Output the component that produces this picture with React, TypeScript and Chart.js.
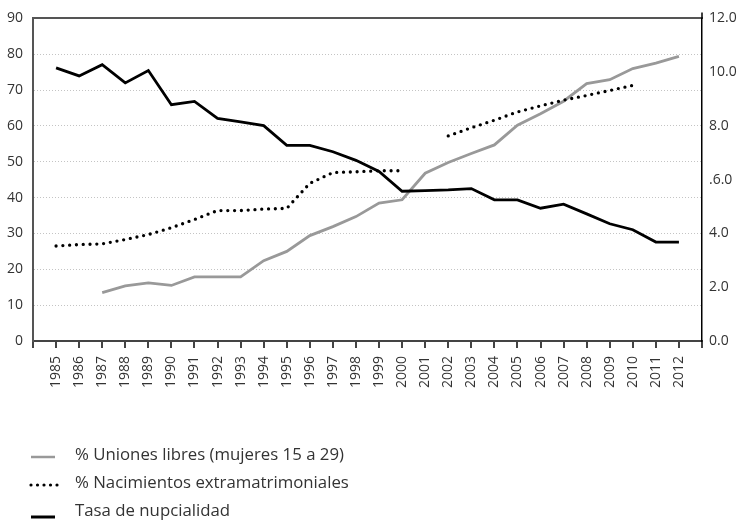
import { useEffect, useRef } from 'react';
import { Chart, registerables } from 'chart.js';

Chart.register(...registerables);

const years = [
  1985, 1986, 1987, 1988, 1989, 1990, 1991, 1992, 1993, 1994,
  1995, 1996, 1997, 1998, 1999, 2000, 2001, 2002, 2003, 2004,
  2005, 2006, 2007, 2008, 2009, 2010, 2011, 2012,
];

const unionesLibres = [
  null, null, 13.5, 15.4, 16.2, 15.5, 17.9, 17.9, 17.9, 22.4,
  25.0, 29.4, 31.9, 34.7, 38.5, 39.4, 46.8, 49.8, 52.3, 54.7,
  60.2, 63.4, 66.9, 71.8, 72.9, 76.0, 77.5, 79.4,
];

const nacimientosExtra = [
  26.5, 26.9, 27.1, 28.3, 29.7, 31.6, 33.9, 36.4, 36.4, 36.8,
  37.0, 44.0, 47.0, 47.2, 47.5, 47.5, null, 57.2, 59.5, 61.6,
  63.9, 65.6, 67.2, 68.5, 69.9, 71.3, null, null,
];

const tasaNupcialidad = [
  10.16, 9.86, 10.28, 9.6, 10.06, 8.79, 8.91, 8.28, 8.15, 8.01,
  7.28, 7.28, 7.04, 6.72, 6.31, 5.57, 5.59, 5.62, 5.67, 5.25,
  5.25, 4.94, 5.09, 4.73, 4.36, 4.14, 3.68, 3.68,
];

const leftTickLabels = ['0', '10', '20', '30', '40', '50', '60', '70', '80', '90'];
const rightTickLabels = ['0.0', '2.0', '4.0', '.6.0', '8.0', '10.0', '12.0'];

const seriesLabels = [
  '% Uniones libres (mujeres 15 a 29)',
  '% Nacimientos extramatrimoniales',
  'Tasa de nupcialidad',
];

const FONT = '"Open Sans", "Noto Sans", sans-serif';
const TEXT = '#333333';

const legendPlugin = {
  id: 'customLegend',
  afterDraw(chart: any) {
    const ctx = chart.ctx as CanvasRenderingContext2D;
    const area = chart.chartArea;
    ctx.save();
    // right axis small extension above the top frame line
    ctx.strokeStyle = '#000000';
    ctx.lineWidth = 1.5;
    ctx.beginPath();
    ctx.moveTo(area.right, area.top - 6);
    ctx.lineTo(area.right, area.top);
    ctx.stroke();
    // gray line sample
    ctx.lineCap = 'butt';
    ctx.setLineDash([]);
    ctx.strokeStyle = '#999999';
    ctx.lineWidth = 2.5;
    ctx.beginPath();
    ctx.moveTo(31, 457);
    ctx.lineTo(55, 457);
    ctx.stroke();
    // dotted sample
    ctx.strokeStyle = '#000000';
    ctx.lineWidth = 3.2;
    ctx.lineCap = 'round';
    ctx.setLineDash([0, 6.5]);
    ctx.beginPath();
    ctx.moveTo(31, 485);
    ctx.lineTo(58, 485);
    ctx.stroke();
    // black line sample
    ctx.setLineDash([]);
    ctx.lineCap = 'butt';
    ctx.lineWidth = 3;
    ctx.beginPath();
    ctx.moveTo(31, 517);
    ctx.lineTo(55, 517);
    ctx.stroke();
    // texts
    ctx.fillStyle = TEXT;
    ctx.font = `16.8px ${FONT}`;
    ctx.textBaseline = 'middle';
    ctx.textAlign = 'left';
    const ys = [455, 483, 511];
    seriesLabels.forEach((t, i) => ctx.fillText(t, 75, ys[i]));
    ctx.restore();
  },
};

export default function App() {
  const ref = useRef<HTMLCanvasElement | null>(null);

  useEffect(() => {
    if (!ref.current) return;
    const toPts = (vals: (number | null)[]) => years.map((yr, i) => ({ x: yr, y: vals[i] }));
    const chart = new Chart(ref.current, {
      type: 'line',
      data: {
        datasets: [
          {
            label: seriesLabels[2],
            data: toPts(tasaNupcialidad) as any,
            yAxisID: 'y1',
            borderColor: '#000000',
            borderWidth: 2.8,
            pointRadius: 0,
            tension: 0,
            spanGaps: false,
          },
          {
            label: seriesLabels[1],
            data: toPts(nacimientosExtra) as any,
            yAxisID: 'y',
            borderColor: '#000000',
            borderWidth: 3.3,
            borderDash: [0, 6.8],
            borderCapStyle: 'round',
            pointRadius: 0,
            tension: 0,
            spanGaps: false,
          },
          {
            label: seriesLabels[0],
            data: toPts(unionesLibres) as any,
            yAxisID: 'y',
            borderColor: '#999999',
            borderWidth: 2.8,
            pointRadius: 0,
            tension: 0,
            spanGaps: false,
          },
        ],
      },
      options: {
        responsive: false,
        animation: false,
        devicePixelRatio: 1,
        layout: { padding: { top: 17, left: 0, right: 0, bottom: 121 } },
        plugins: {
          legend: { display: false },
          tooltip: { enabled: false },
        },
        scales: {
          x: {
            type: 'linear',
            position: 'bottom',
            min: 1984,
            max: 2013,
            afterFit: (s: any) => { s.height = 60; },
            ticks: {
              stepSize: 1,
              autoSkip: false,
              minRotation: 90,
              maxRotation: 90,
              padding: 8,
              color: TEXT,
              font: { family: FONT, size: 14 },
              callback: (v: any) => (v === 1984 || v === 2013 ? '' : String(v)),
            },
            grid: {
              drawOnChartArea: false,
              drawTicks: true,
              tickLength: 7,
              color: '#444444',
              lineWidth: 2,
            },
            border: { display: true, color: '#444444', width: 2 },
          },
          xTop: {
            type: 'linear',
            position: 'top',
            min: 1984,
            max: 2013,
            afterFit: (s: any) => { s.height = 0; },
            ticks: { display: false },
            grid: { display: false, drawTicks: false },
            border: { display: true, color: '#555555', width: 2 },
          },
          y: {
            type: 'linear',
            position: 'left',
            min: 0,
            max: 90,
            afterFit: (s: any) => { s.width = 33; },
            ticks: {
              stepSize: 10,
              padding: 10,
              color: TEXT,
              font: { family: FONT, size: 14 },
              callback: (_v: any, i: number) => leftTickLabels[i],
            },
            grid: {
              drawTicks: false,
              lineWidth: 1,
              color: (c: any) =>
                c.tick && (c.tick.value === 0 || c.tick.value === 90) ? 'rgba(0,0,0,0)' : '#c4c4c4',
            },
            border: { display: true, color: '#555555', width: 2, dash: [1, 2] },
          },
          y1: {
            type: 'linear',
            position: 'right',
            min: 0,
            max: 12,
            afterFit: (s: any) => { s.width = 37; },
            ticks: {
              stepSize: 2,
              padding: 7,
              color: TEXT,
              font: { family: FONT, size: 14 },
              callback: (_v: any, i: number) => rightTickLabels[i],
            },
            grid: { display: false, drawOnChartArea: false, drawTicks: false },
            border: { display: true, color: '#000000', width: 1.5 },
          },
        },
      } as any,
      plugins: [legendPlugin],
    });
    return () => chart.destroy();
  }, []);

  return (
    <div style={{ position: 'absolute', left: 0, top: 0, width: 739, height: 522, background: '#ffffff' }}>
      <canvas ref={ref} width={739} height={522} style={{ width: 739, height: 522, display: 'block' }} />
    </div>
  );
}
